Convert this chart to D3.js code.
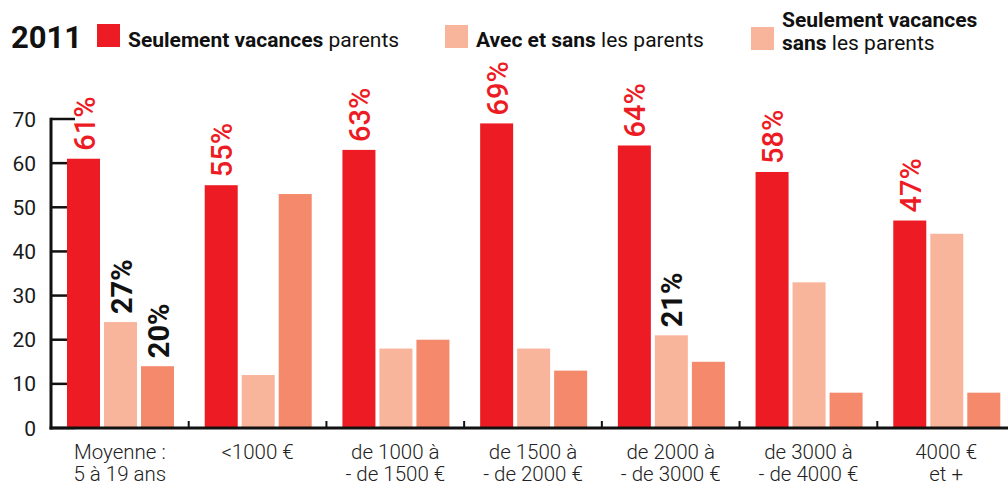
<!DOCTYPE html>
<html>
<head>
<meta charset="utf-8">
<script src="https://cdn.jsdelivr.net/npm/d3@7/dist/d3.min.js"></script>
<style>
  body { margin: 0; background: #fff; }
  svg { display: block; font-family: Roboto, "Liberation Sans", sans-serif; }
</style>
</head>
<body>
<svg id="chart" width="1008" height="486"></svg>
<script>
const categories = [
  ["Moyenne :", "5 à 19 ans"],
  ["<1000 €"],
  ["de 1000 à", "- de 1500 €"],
  ["de 1500 à", "- de 2000 €"],
  ["de 2000 à", "- de 3000 €"],
  ["de 3000 à", "- de 4000 €"],
  ["4000 €", "et +"]
];
const series = ["parents", "avecSans", "sansParents"];
const parentsOnly = [61, 55, 63, 69, 64, 58, 47];
const withAndWithout = [24, 12, 18, 18, 21, 33, 44];
const withoutParents = [14, 53, 20, 13, 15, 8, 8];
// percentage labels printed above bars: [group, series, text]
const barLabels = [
  [0, 0, "61%"], [1, 0, "55%"], [2, 0, "63%"], [3, 0, "69%"],
  [4, 0, "64%"], [5, 0, "58%"], [6, 0, "47%"],
  [0, 1, "27%"], [0, 2, "20%"], [4, 1, "21%"]
];
const yTicks = [0, 10, 20, 30, 40, 50, 60, 70];

const colors = {parents: "#ED1C24", avecSans: "#F9B59C", sansParents: "#F48A6B"};
const values = {parents: parentsOnly, avecSans: withAndWithout, sansParents: withoutParents};

const svg = d3.select("#chart");
const left = 51, right = 1015, baseY = 428;

const x0 = d3.scaleBand()
  .domain(d3.range(categories.length))
  .range([left, right]);

const x1 = d3.scaleBand()
  .domain(series)
  .range([16, 123])
  .paddingInner(4 / 37);

const y = d3.scaleLinear()
  .domain([0, 70])
  .range([baseY, 119]);

// y tick lines (drawn under bars)
svg.append("g").selectAll("line")
  .data(yTicks)
  .enter().append("line")
  .attr("x1", left).attr("x2", left + 24)
  .attr("y1", d => y(d)).attr("y2", d => y(d))
  .attr("stroke", "#111").attr("stroke-width", 2.5);

svg.append("g").selectAll("text")
  .data(yTicks)
  .enter().append("text")
  .attr("x", 36)
  .attr("y", d => y(d) + 7.5)
  .attr("text-anchor", "end")
  .attr("font-size", 21)
  .attr("fill", "#1a1a1a")
  .text(d => d);

// bars
const groups = svg.append("g").selectAll("g")
  .data(categories.map((c, i) => i))
  .enter().append("g")
  .attr("transform", i => "translate(" + x0(i) + ",0)");

groups.selectAll("rect")
  .data(i => series.map(s => ({s: s, v: values[s][i]})))
  .enter().append("rect")
  .attr("x", d => x1(d.s))
  .attr("y", d => y(d.v))
  .attr("width", x1.bandwidth())
  .attr("height", d => baseY - y(d.v))
  .attr("fill", d => colors[d.s]);

// axes lines
svg.append("line")
  .attr("x1", left).attr("x2", left)
  .attr("y1", y(70) - 1.2).attr("y2", baseY + 1.5)
  .attr("stroke", "#111").attr("stroke-width", 3);
svg.append("line")
  .attr("x1", left - 1.5).attr("x2", 1008)
  .attr("y1", baseY).attr("y2", baseY)
  .attr("stroke", "#111").attr("stroke-width", 3);

// little separators between groups
svg.append("g").selectAll("line")
  .data(d3.range(1, categories.length))
  .enter().append("line")
  .attr("x1", i => x0(i)).attr("x2", i => x0(i))
  .attr("y1", baseY).attr("y2", baseY - 7)
  .attr("stroke", "#111").attr("stroke-width", 2);

// category labels
const catText = svg.append("g").selectAll("text")
  .data(categories)
  .enter().append("text")
  .attr("x", (d, i) => x0(i) + x0.bandwidth() / 2)
  .attr("y", 459)
  .attr("text-anchor", "middle")
  .attr("font-size", 20.5)
  .attr("font-weight", 300)
  .attr("fill", "#222");
catText.selectAll("tspan")
  .data(d => d)
  .enter().append("tspan")
  .attr("x", function() { return this.parentNode.getAttribute("x"); })
  .attr("dy", (d, i) => i === 0 ? 0 : 22)
  .text(d => d);

// percentage labels
svg.append("g").selectAll("text")
  .data(barLabels)
  .enter().append("text")
  .attr("transform", d => {
    const s = series[d[1]];
    const cx = x0(d[0]) + x1(s) + x1.bandwidth() / 2 + 11;
    const cy = y(values[s][d[0]]) - 8;
    return "translate(" + cx + "," + cy + ") rotate(-90)";
  })
  .attr("font-size", 29)
  .attr("font-weight", d => d[1] === 0 ? 500 : 700)
  .attr("fill", d => d[1] === 0 ? "#ED1C24" : "#111")
  .text(d => d[2]);

// legend
svg.append("text")
  .attr("x", 11).attr("y", 48)
  .attr("font-size", 31).attr("font-weight", 700).attr("fill", "#111")
  .text("2011");

const legend = [
  {x: 97, y: 24, color: colors.parents, lines: [[["Seulement vacances", 700], [" parents", 400]]], ty: 47},
  {x: 445, y: 25, color: colors.avecSans, lines: [[["Avec et sans", 700], [" les parents", 400]]], ty: 47},
  {x: 751, y: 27, color: colors.avecSans, lines: [[["Seulement vacances", 700]], [["sans", 700], [" les parents", 400]]], ty: 27}
];
const lg = svg.append("g").selectAll("g")
  .data(legend)
  .enter().append("g");
lg.append("rect")
  .attr("x", d => d.x).attr("y", d => d.y)
  .attr("width", 23).attr("height", 23)
  .attr("fill", d => d.color);
lg.each(function(d) {
  d.lines.forEach((line, li) => {
    const t = d3.select(this).append("text")
      .attr("x", d.x + 31).attr("y", d.ty + li * 23)
      .attr("font-size", 21).attr("fill", "#111");
    line.forEach(part => {
      t.append("tspan")
        .attr("font-weight", part[1])
        .text(part[0]);
    });
  });
});
</script>
</body>
</html>
